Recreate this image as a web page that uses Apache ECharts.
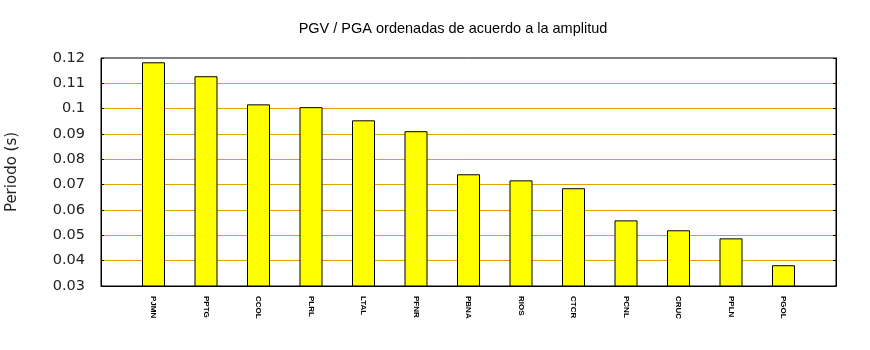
<!DOCTYPE html>
<html>
<head>
<meta charset="utf-8">
<script src="https://cdn.jsdelivr.net/npm/echarts@6/dist/echarts.min.js"></script>
<style>
  html, body { margin: 0; padding: 0; background: #fff; }
  #chart { width: 870px; height: 350px; }
</style>
</head>
<body>
<div id="chart"></div>
<script>
// Stations ordered by amplitude
const stations = ['PJMN', 'PPTG', 'CCOL', 'PLRL', 'LTAL', 'PFNR', 'PBNA', 'RIOS', 'CTCR', 'PCNL', 'CRUC', 'PPLN', 'PGOL'];
// PGV / PGA period values (s)
const periods = [0.1183, 0.1128, 0.1017, 0.1006, 0.0954, 0.0911, 0.0741, 0.0717, 0.0686, 0.0559, 0.0520, 0.0488, 0.0382];
// Y-axis range and step
const yMin = 0.03, yMax = 0.12, yStep = 0.01;

// One empty slot on each side of the stations
const cats = [''].concat(stations, ['']);
const vals = ['-'].concat(periods, ['-']);

const fmt = v => String(parseFloat(v.toFixed(2)));

const chart = echarts.init(document.getElementById('chart'), null, { renderer: 'canvas' });
chart.setOption({
  animation: false,
  backgroundColor: '#ffffff',
  title: {
    text: 'PGV / PGA ordenadas de acuerdo a la amplitud',
    left: 448,
    top: 16,
    textAlign: 'center',
    textStyle: { fontFamily: 'Liberation Sans', fontSize: 14.5, fontWeight: 'normal', color: '#000' }
  },
  grid: {
    left: 101, right: 34, top: 58, bottom: 64,
    outerBoundsMode: 'none',
    containLabel: false,
    show: true, borderColor: '#000', borderWidth: 1, backgroundColor: 'transparent'
  },
  xAxis: {
    type: 'category',
    data: cats,
    boundaryGap: false,
    axisLine: { show: true, lineStyle: { color: '#000', width: 1 } },
    axisTick: { show: false },
    splitLine: { show: false },
    axisLabel: {
      interval: 0,
      rotate: -90,
      margin: 10,
      fontFamily: 'Liberation Sans',
      fontSize: 8,
      fontWeight: 'bold',
      color: '#000'
    }
  },
  yAxis: [{
    type: 'value',
    min: yMin, max: yMax, interval: yStep,
    name: 'Periodo (s)',
    nameLocation: 'middle',
    nameGap: 81,
    nameTextStyle: { fontFamily: 'DejaVu Sans', fontSize: 15, color: '#222' },
    axisLine: { show: true, lineStyle: { color: '#000' } },
    axisTick: { show: true, inside: true, length: 3, lineStyle: { color: '#000' } },
    axisLabel: { margin: 16, fontFamily: 'DejaVu Sans', fontSize: 14.5, color: '#222', formatter: fmt },
    splitLine: { show: true, showMinLine: false, showMaxLine: false, lineStyle: { color: '#e0a000', width: 1 } }
  }, {
    type: 'value',
    position: 'right',
    min: yMin, max: yMax, interval: yStep,
    axisLine: { show: true, lineStyle: { color: '#000' } },
    axisTick: { show: true, inside: true, length: 3, lineStyle: { color: '#000' } },
    axisLabel: { show: false },
    splitLine: { show: false }
  }],
  series: [{
    type: 'bar',
    data: vals,
    barWidth: 23,
    itemStyle: { color: '#ffff00', borderColor: '#000', borderWidth: 1 }
  }]
});
</script>
</body>
</html>
